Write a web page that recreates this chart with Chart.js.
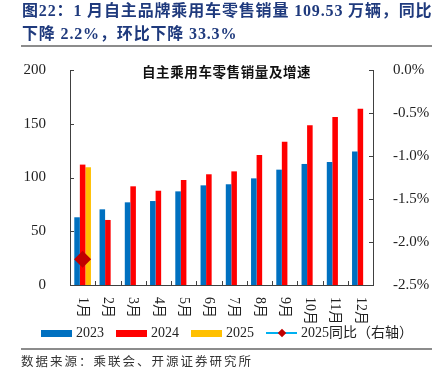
<!DOCTYPE html>
<html><head><meta charset="utf-8">
<script src="https://cdn.jsdelivr.net/npm/chart.js@4"></script>
<style>
html,body{margin:0;padding:0;background:#fff;width:439px;height:382px;overflow:hidden;}
#wrap{position:relative;width:439px;height:382px;}
canvas{position:absolute;left:0;top:0;}
.hdr{position:absolute;left:22px;color:#1f3a7d;font:bold 16px "Liberation Serif","Noto Sans CJK SC";white-space:nowrap;line-height:20px;letter-spacing:0.85px;}
.sep{position:absolute;left:21px;width:411px;height:1.5px;background:#8c8c8c;}
.ctitle{position:absolute;left:142px;top:63px;font:bold 13.5px "Noto Sans CJK SC";letter-spacing:0.6px;color:#111;white-space:nowrap;line-height:16px;}
.lg{position:absolute;font:14px "Liberation Serif","Noto Sans CJK SC";color:#222;white-space:nowrap;line-height:16px;top:325px;}
.box{position:absolute;top:330px;height:7px;width:31px;}
.src{position:absolute;left:21px;top:353px;font:12.5px "Noto Sans CJK SC";letter-spacing:2px;color:#333;white-space:nowrap;line-height:16px;}
</style></head>
<body><div id="wrap">
<canvas id="c" width="439" height="382"></canvas>
<div class="hdr" style="top:1px">图22：1 月自主品牌乘用车零售销量 109.53 万辆，同比</div>
<div class="hdr" style="top:24px">下降 2.2%，环比下降 33.3%</div>
<div class="sep" style="top:45px"></div>
<div class="ctitle">自主乘用车零售销量及增速</div>
<div id="legend"></div>
<div class="sep" style="top:348px"></div>
<div class="src">数据来源：乘联会、开源证券研究所</div>
</div>
<script>
const months = ['1月','2月','3月','4月','5月','6月','7月','8月','9月','10月','11月','12月'];
const sales2023 = [63.0, 70.4, 76.9, 78.1, 87.1, 92.7, 93.7, 99.2, 107.3, 112.6, 114.4, 124.3];
const sales2024 = [112.0, 60.5, 91.8, 87.7, 97.7, 103.0, 105.7, 120.9, 133.3, 148.5, 156.3, 164.0];
const sales2025 = [109.53, null, null, null, null, null, null, null, null, null, null, null];
const yoy2025 = [-2.2, null, null, null, null, null, null, null, null, null, null, null];
const leftTicks = [0, 50, 100, 150, 200];
const rightTicks = [-2.5, -2.0, -1.5, -1.0, -0.5, 0.0];
const seriesNames = ['2023', '2024', '2025', '2025同比（右轴）'];

const C_BLUE = '#0070C0', C_RED = '#FF0000', C_ORANGE = '#FFC000', C_LINE = '#00B0F0', C_DIAMOND = '#C00000';
const AXIS = '#404040';
const serif = '"Liberation Serif","Noto Sans CJK SC"';

const tickPlugin = {
  id: 'tickPlugin',
  afterDraw(chart) {
    const ctx = chart.ctx, a = chart.chartArea;
    ctx.save();
    ctx.strokeStyle = AXIS; ctx.lineWidth = 1;
    const y = chart.scales.y, y1 = chart.scales.y1, x = chart.scales.x;
    ctx.beginPath();
    y.ticks.forEach(t => { const p = Math.round(y.getPixelForValue(t.value)) + 0.5; ctx.moveTo(a.left, p); ctx.lineTo(a.left + 4, p); });
    y1.ticks.forEach(t => { const p = Math.round(y1.getPixelForValue(t.value)) + 0.5; ctx.moveTo(a.right - 4, p); ctx.lineTo(a.right, p); });
    const n = months.length, w = (a.right - a.left) / n;
    for (let i = 1; i < n; i++) { const p = Math.round(a.left + i * w) + 0.5; ctx.moveTo(p, a.bottom); ctx.lineTo(p, a.bottom - 4); }
    ctx.stroke();
    ctx.fillStyle = '#222';
    ctx.font = '14px ' + serif;
    ctx.textAlign = 'left'; ctx.textBaseline = 'middle';
    months.forEach((m, i) => {
      const px = x.getPixelForValue(i);
      ctx.save();
      ctx.translate(px, a.bottom + 12);
      ctx.rotate(Math.PI / 2);
      ctx.fillText(m, 0, 0);
      ctx.restore();
    });
    ctx.restore();
  }
};

new Chart(document.getElementById('c'), {
  data: {
    labels: months,
    datasets: [
      { type: 'line', label: seriesNames[3], data: yoy2025, yAxisID: 'y1', borderColor: C_LINE, backgroundColor: C_DIAMOND,
        pointStyle: 'rectRot', pointRadius: 8.5, pointBorderWidth: 0, pointBackgroundColor: C_DIAMOND, borderWidth: 2, order: -1 },
      { type: 'bar', label: seriesNames[0], data: sales2023, yAxisID: 'y', backgroundColor: C_BLUE, categoryPercentage: 0.66, barPercentage: 1.0 },
      { type: 'bar', label: seriesNames[1], data: sales2024, yAxisID: 'y', backgroundColor: C_RED, categoryPercentage: 0.66, barPercentage: 1.0 },
      { type: 'bar', label: seriesNames[2], data: sales2025, yAxisID: 'y', backgroundColor: C_ORANGE, categoryPercentage: 0.66, barPercentage: 1.0 }
    ]
  },
  options: {
    responsive: false, animation: false, devicePixelRatio: 1,
    layout: { padding: { top: 70, left: 0, right: 0, bottom: 0 } },
    plugins: { legend: { display: false }, tooltip: { enabled: false }, title: { display: false } },
    scales: {
      x: { type: 'category', offset: true, grid: { display: false }, border: { display: true, color: AXIS, width: 1 },
           ticks: { display: false }, afterFit: s => { s.height = 97; } },
      y: { position: 'left', min: 0, max: 200, grid: { display: false }, border: { display: true, color: AXIS, width: 1 },
           afterBuildTicks: s => { s.ticks = leftTicks.map(v => ({ value: v })); },
           ticks: { padding: 16, color: '#222', font: { family: serif, size: 15 } },
           afterFit: s => { s.width = 70; } },
      y1: { position: 'right', min: -2.5, max: 0, grid: { display: false }, border: { display: true, color: AXIS, width: 1 },
           afterBuildTicks: s => { s.ticks = rightTicks.map(v => ({ value: v })); },
           ticks: { padding: 12, color: '#222', font: { family: serif, size: 15 }, callback: v => (Math.abs(v) < 1e-9 ? 0 : v).toFixed(1) + '%' },
           afterFit: s => { s.width = 66; } }
    }
  },
  plugins: [tickPlugin]
});

const lg = document.getElementById('legend');
const items = [
  { name: seriesNames[0], color: C_BLUE, x: 41 },
  { name: seriesNames[1], color: C_RED, x: 116 },
  { name: seriesNames[2], color: C_ORANGE, x: 191 }
];
items.forEach(it => {
  const b = document.createElement('div'); b.className = 'box'; b.style.left = it.x + 'px'; b.style.background = it.color; lg.appendChild(b);
  const t = document.createElement('div'); t.className = 'lg'; t.style.left = (it.x + 35) + 'px'; t.textContent = it.name; lg.appendChild(t);
});
const ln = document.createElement('div');
ln.style.cssText = 'position:absolute;left:266px;top:332px;width:31px;height:2px;background:' + C_LINE;
lg.appendChild(ln);
const dm = document.createElement('div');
dm.style.cssText = 'position:absolute;left:279px;top:330px;width:6px;height:6px;transform:rotate(45deg);background:' + C_DIAMOND;
lg.appendChild(dm);
const lt = document.createElement('div'); lt.className = 'lg'; lt.style.left = '301px'; lt.textContent = seriesNames[3]; lg.appendChild(lt);
</script>
</body></html>
